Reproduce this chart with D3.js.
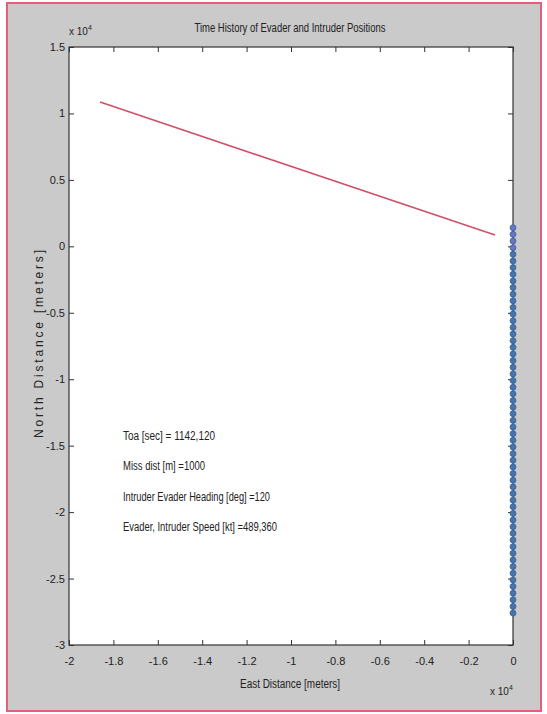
<!DOCTYPE html>
<html>
<head>
<meta charset="utf-8">
<script src="https://cdn.jsdelivr.net/npm/d3@7"></script>
<style>
  body { margin: 0; background: #fff; }
  svg { display: block; }
  text { font-family: "Liberation Sans Narrow", "Liberation Sans", Arial, sans-serif; fill: #222; }
</style>
</head>
<body>
<svg id="chart" width="547" height="714"></svg>
<script>
// values in units of 1e4 meters
const eastTicks = [-2, -1.8, -1.6, -1.4, -1.2, -1, -0.8, -0.6, -0.4, -0.2, 0];
const eastTickLabels = ["-2", "-1.8", "-1.6", "-1.4", "-1.2", "-1", "-0.8", "-0.6", "-0.4", "-0.2", "0"];
const northTicks = [1.5, 1, 0.5, 0, -0.5, -1, -1.5, -2, -2.5, -3];
const northTickLabels = ["1.5", "1", "0.5", "0", "-0.5", "-1", "-1.5", "-2", "-2.5", "-3"];

const intruderEast = [-1.86, -0.081];
const intruderNorth = [1.086, 0.085];

const evaderNorth = [0.14, 0.09, 0.04, -0.01, -0.06, -0.11, -0.16, -0.21, -0.26, -0.31,
  -0.36, -0.41, -0.46, -0.51, -0.56, -0.61, -0.66, -0.71, -0.76, -0.81,
  -0.86, -0.91, -0.96, -1.01, -1.06, -1.11, -1.16, -1.21, -1.26, -1.31,
  -1.36, -1.41, -1.46, -1.51, -1.56, -1.61, -1.66, -1.71, -1.76, -1.81,
  -1.86, -1.91, -1.96, -2.01, -2.06, -2.11, -2.16, -2.21, -2.26, -2.31,
  -2.36, -2.41, -2.46, -2.51, -2.56, -2.61, -2.66, -2.71, -2.76];
const evaderEast = evaderNorth.map(() => 0);

const notes = [
  "Toa [sec] = 1142,120",
  "Miss dist [m] =1000",
  "Intruder Evader Heading [deg] =120",
  "Evader, Intruder Speed [kt] =489,360"
];
const noteWidths = [92, 82, 147, 154];

const svg = d3.select("#chart");
const margin = { left: 69, right: 513, top: 47, bottom: 645 };

// figure background + frame
svg.append("rect").attr("x", 7).attr("y", 3).attr("width", 534).attr("height", 708)
  .attr("fill", "#cacaca").attr("stroke", "#e2607a").attr("stroke-width", 2);

const x = d3.scaleLinear().domain([-2, 0]).range([margin.left, margin.right]);
const y = d3.scaleLinear().domain([-3, 1.5]).range([margin.bottom, margin.top]);

svg.append("rect")
  .attr("x", margin.left).attr("y", margin.top)
  .attr("width", margin.right - margin.left).attr("height", margin.bottom - margin.top)
  .attr("fill", "#fff");

const tickLen = 5;
const axisStyle = (g) => {
  g.select(".domain").remove();
  g.selectAll(".tick line").attr("stroke", "#333");
  g.selectAll(".tick text").attr("font-size", 11).attr("fill", "#222");
};

// bottom (labels) and top (ticks only)
svg.append("g").attr("transform", `translate(0,${margin.bottom})`)
  .call(d3.axisBottom(x).tickValues(eastTicks).tickSize(-tickLen).tickPadding(12)
    .tickFormat((d, i) => eastTickLabels[i]))
  .call(axisStyle);
svg.append("g").attr("transform", `translate(0,${margin.top})`)
  .call(d3.axisTop(x).tickValues(eastTicks).tickSize(-tickLen).tickFormat(""))
  .call(axisStyle);

// left (labels) and right (ticks only)
svg.append("g").attr("transform", `translate(${margin.left},0)`)
  .call(d3.axisLeft(y).tickValues(northTicks).tickSize(-tickLen).tickPadding(4)
    .tickFormat((d, i) => northTickLabels[i]))
  .call(axisStyle);
svg.append("g").attr("transform", `translate(${margin.right},0)`)
  .call(d3.axisRight(y).tickValues(northTicks).tickSize(-tickLen).tickFormat(""))
  .call(axisStyle);

svg.append("rect")
  .attr("x", margin.left).attr("y", margin.top)
  .attr("width", margin.right - margin.left).attr("height", margin.bottom - margin.top)
  .attr("fill", "none").attr("stroke", "#333").attr("stroke-width", 1.2);

// intruder track
const line = d3.line().x((d) => x(d[0])).y((d) => y(d[1]));
svg.append("path")
  .datum(d3.zip(intruderEast, intruderNorth))
  .attr("d", line)
  .attr("fill", "none").attr("stroke", "#d0506a").attr("stroke-width", 1.6);

// evader positions
svg.append("g").selectAll("circle")
  .data(d3.zip(evaderEast, evaderNorth))
  .join("circle")
  .attr("cx", (d) => x(d[0]))
  .attr("cy", (d) => y(d[1]))
  .attr("r", 3)
  .attr("fill", (d, i) => (i < 4 ? "#6a74c4" : "#4574ae"))
  .attr("stroke", "#33608f").attr("stroke-width", 0.7);

// annotations
svg.append("g").selectAll("text")
  .data(notes)
  .join("text")
  .attr("x", 123)
  .attr("y", (d, i) => 440 + i * 30.3)
  .attr("font-size", 12)
  .attr("textLength", (d, i) => noteWidths[i])
  .attr("lengthAdjust", "spacingAndGlyphs")
  .text((d) => d);

// title and axis labels
svg.append("text").attr("x", 290).attr("y", 32).attr("text-anchor", "middle")
  .attr("font-size", 12).attr("textLength", 191).attr("lengthAdjust", "spacingAndGlyphs")
  .text("Time History of Evader and Intruder Positions");

svg.append("text").attr("x", 290).attr("y", 688).attr("text-anchor", "middle")
  .attr("font-size", 12).attr("textLength", 100).attr("lengthAdjust", "spacingAndGlyphs")
  .text("East Distance [meters]");

svg.append("text")
  .attr("transform", "translate(43,344) rotate(-90)")
  .attr("text-anchor", "middle")
  .attr("font-size", 12)
  .style("font-family", "'Liberation Sans', Arial, sans-serif")
  .attr("textLength", 188).attr("lengthAdjust", "spacing")
  .text("North Distance [meters]");

// exponent labels
const expLabel = (px, py) => {
  const t = svg.append("text").attr("x", px).attr("y", py).attr("font-size", 10);
  t.append("tspan").text("x 10");
  t.append("tspan").attr("dy", -5).attr("font-size", 7).text("4");
};
expLabel(69, 35);
expLabel(490, 695);
</script>
</body>
</html>
